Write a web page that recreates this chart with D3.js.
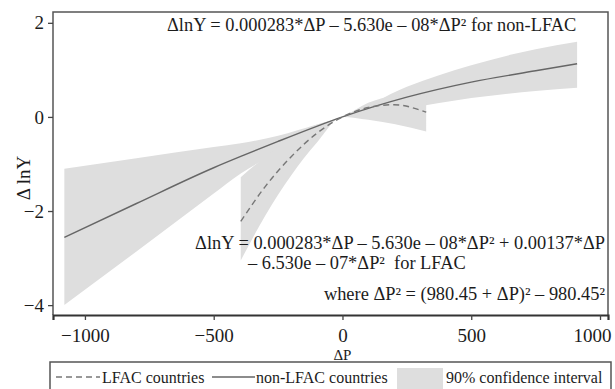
<!DOCTYPE html>
<meta charset="utf-8">
<style>
body { margin: 0; background: #fff; }
svg { display: block; }
text { font-family: "Liberation Serif", "Times New Roman", serif; fill: #1c1c1c; }
</style>
<body>
<script src="https://d3js.org/d3.v7.min.js"></script>
<script>

// non-LFAC fit and its 90% band
var dpNon  = [-1080, -800, -500, -395, -250, -100, 0, 250, 500, 750, 911],
    fitNon = [-2.56, -1.84, -1.08, -0.84, -0.52, -0.20, 0, 0.42, 0.74, 0.98, 1.13],
    hiNon  = [-1.10, -0.88, -0.64, -0.56, -0.40, -0.16, 0, 0.64, 1.10, 1.44, 1.60],
    loNon  = [-4.00, -2.86, -1.63, -1.20, -0.75, -0.29, 0, 0.18, 0.40, 0.55, 0.62];

// LFAC fit and band
var dpLfac  = [-395, -300, -200, -100, 0, 100, 200, 325],
    fitLfac = [-2.22, -1.48, -0.85, -0.35, 0, 0.20, 0.26, 0.10],
    hiLfac  = [-1.28, -0.85, -0.45, -0.17, 0, 0.30, 0.45, 0.50],
    loLfac  = [-3.05, -2.10, -1.25, -0.55, 0, -0.06, -0.15, -0.31];

var xTicks = [-1000, -500, 0, 500, 1000],
    yTicks = [-4, -2, 0, 2];

var legendItems = ["LFAC countries", "non-LFAC countries", "90% confidence interval"];

var m_width = 615, m_height = 389,
    m_left = 53, m_right = 608, m_top = 12, m_bottom = 315;

var svg = d3.select("body").append("svg")
    .attr("width", m_width)
    .attr("height", m_height);

var x = d3.scaleLinear().domain([-1124, 1031]).range([m_left, m_right]);
var y = d3.scaleLinear().domain([-4.21, 2.23]).range([m_bottom, m_top]);

function rows(dp, a, b) {
  return dp.map(function(d, i) { return {x: d, a: a[i], b: b ? b[i] : null}; });
}

var band = d3.area()
    .x(function(d) { return x(d.x); })
    .y0(function(d) { return y(d.b); })
    .y1(function(d) { return y(d.a); })
    .curve(d3.curveMonotoneX);

var line = d3.line()
    .x(function(d) { return x(d.x); })
    .y(function(d) { return y(d.a); })
    .curve(d3.curveMonotoneX);

var plot = svg.append("g");

plot.append("path").datum(rows(dpNon, hiNon, loNon))
    .attr("d", band).attr("fill", "#dedede");
plot.append("path").datum(rows(dpLfac, hiLfac, loLfac))
    .attr("d", band).attr("fill", "#dedede");

plot.append("path").datum(rows(dpNon, fitNon))
    .attr("d", line).attr("fill", "none")
    .attr("stroke", "#666").attr("stroke-width", 1.4);
plot.append("path").datum(rows(dpLfac, fitLfac))
    .attr("d", line).attr("fill", "none")
    .attr("stroke", "#777").attr("stroke-width", 1.4)
    .attr("stroke-dasharray", "6,4");

// frame
svg.append("path")
    .attr("d", "M" + m_left + "," + m_bottom + "V" + m_top + "H" + m_right + "V" + m_bottom)
    .attr("fill", "none").attr("stroke", "#555").attr("stroke-width", 1.5);

function fmt(d) { return d < 0 ? "\u2212" + (-d) : d; }

// axes
var xAxis = svg.append("g")
    .attr("transform", "translate(0," + m_bottom + ")")
    .call(d3.axisBottom(x).tickValues(xTicks).tickSize(5).tickFormat(fmt))
    .attr("font-family", null).attr("font-size", 19);
xAxis.select(".domain").attr("stroke", "#333").attr("stroke-width", 2.2);
xAxis.selectAll(".tick line").attr("stroke", "#444").attr("stroke-width", 1.3);
xAxis.selectAll(".tick text").attr("fill", "#1c1c1c").attr("y", 27).attr("dy", 0);
// last label is pulled in so it stays inside the page
xAxis.selectAll(".tick text").filter(function(d) { return d === 1000; })
    .attr("text-anchor", "end").attr("x", 11);

var yAxis = svg.append("g")
    .attr("transform", "translate(" + m_left + ",0)")
    .call(d3.axisLeft(y).tickValues(yTicks).tickSize(5).tickPadding(4).tickFormat(fmt))
    .attr("font-family", null).attr("font-size", 19);
yAxis.select(".domain").remove();
yAxis.selectAll(".tick line").attr("stroke", "#444").attr("stroke-width", 1.3);
yAxis.selectAll(".tick text").attr("fill", "#1c1c1c");

svg.append("text")
    .attr("x", x(0)).attr("y", 360)
    .attr("text-anchor", "middle").attr("font-size", 15)
    .text("\u0394P");

svg.append("text")
    .attr("transform", "translate(30,178) rotate(-90)")
    .attr("text-anchor", "middle").attr("font-size", 19)
    .text("\u0394 lnY");

// equations
var eq = svg.append("g").attr("font-size", 18.4);
eq.append("text").attr("x", 167).attr("y", 31)
    .text("\u0394lnY = 0.000283*\u0394P \u2013 5.630e \u2013 08*\u0394P\u00b2 for non-LFAC");
eq.append("text").attr("x", 605).attr("y", 249).attr("text-anchor", "end")
    .text("\u0394lnY = 0.000283*\u0394P \u2013 5.630e \u2013 08*\u0394P\u00b2 + 0.00137*\u0394P");
eq.append("text").attr("x", 248).attr("y", 269)
    .attr("xml:space", "preserve")
    .text("\u2013 6.530e \u2013 07*\u0394P\u00b2  for LFAC");
eq.append("text").attr("x", 605).attr("y", 300).attr("text-anchor", "end")
    .text("where \u0394P\u00b2 = (980.45 + \u0394P)\u00b2 \u2013 980.45\u00b2");

// legend
var lg = svg.append("g");
lg.append("rect")
    .attr("x", 50).attr("y", 362).attr("width", 561).attr("height", 40)
    .attr("fill", "#fff").attr("stroke", "#555").attr("stroke-width", 1.5);
lg.append("line").attr("x1", 56).attr("x2", 100).attr("y1", 377).attr("y2", 377)
    .attr("stroke", "#777").attr("stroke-width", 1.3).attr("stroke-dasharray", "6,4");
lg.append("line").attr("x1", 212).attr("x2", 255).attr("y1", 377).attr("y2", 377)
    .attr("stroke", "#666").attr("stroke-width", 1.3);
lg.append("rect").attr("x", 397).attr("y", 368).attr("width", 46).attr("height", 22)
    .attr("fill", "#dedede");
var lx = [102, 256, 446];
lg.selectAll("text.lg").data(legendItems).enter().append("text")
    .attr("class", "lg")
    .attr("x", function(d, i) { return lx[i]; })
    .attr("y", 383)
    .attr("font-size", 16)
    .text(function(d) { return d; });

</script>
</body>
